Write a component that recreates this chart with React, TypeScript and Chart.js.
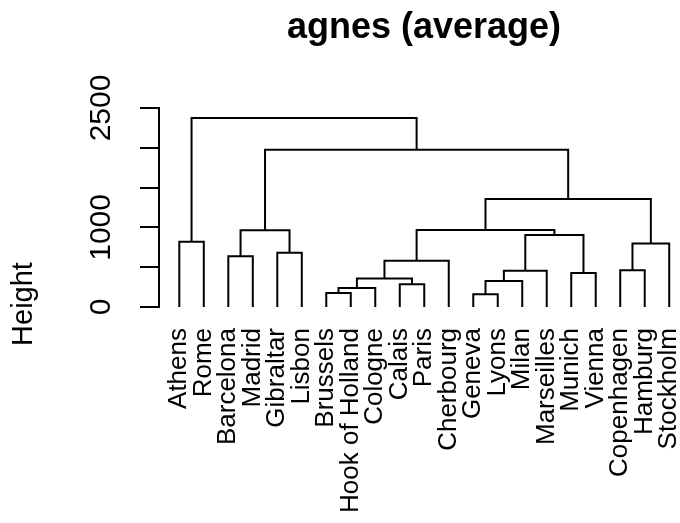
import React, { useEffect, useRef } from "react";
import { Chart, registerables } from "chart.js";

Chart.register(...registerables);

// ---- data ----
const titleText = "agnes (average)";
const yAxisTitle = "Height";
const leafLabels = [
  "Athens", "Rome", "Barcelona", "Madrid", "Gibraltar", "Lisbon", "Brussels",
  "Hook of Holland", "Cologne", "Calais", "Paris", "Cherbourg", "Geneva", "Lyons",
  "Milan", "Marseilles", "Munich", "Vienna", "Copenhagen", "Hamburg", "Stockholm",
];
// merge steps (R-style): negative = leaf (1-based position), positive = earlier merge
const mergeLeft = [-13, -7, 2, -10, 1, 3, -17, 5, -19, 6, -3, -5, 9, -1, 8, 11, 10, 17, 16, 14];
const mergeRight = [-14, -8, -9, -11, -15, 4, -18, -16, -20, -12, -4, -6, -21, -2, 7, 12, 15, 13, 18, 19];
const mergeHeight = [160, 176, 240, 286, 328, 358, 428, 454, 462, 580, 639, 680, 799, 819, 903, 963, 966, 1357, 1975, 2374];
const yTickValues = [0, 500, 1000, 1500, 2000, 2500];
const yTickLabelsShown = [0, 1000, 2500];

const FONT = '"Liberation Sans", Arial, Helvetica, sans-serif';

function buildDatasets() {
  const pos: number[] = [];
  const hts: number[] = [];
  const node = (ref: number) =>
    ref < 0 ? { x: -ref, y: 0 } : { x: pos[ref - 1], y: hts[ref - 1] };
  return mergeHeight.map((h, i) => {
    const l = node(mergeLeft[i]);
    const r = node(mergeRight[i]);
    pos[i] = (l.x + r.x) / 2;
    hts[i] = h;
    return {
      data: [
        { x: l.x, y: l.y },
        { x: l.x, y: h },
        { x: r.x, y: h },
        { x: r.x, y: r.y },
      ],
      borderColor: "#000000",
      borderWidth: 2,
      pointRadius: 0,
      fill: false,
      tension: 0,
      showLine: true,
    };
  });
}

const textPlugin = {
  id: "extraTexts",
  afterDraw(chart: any) {
    const ctx = chart.ctx;
    ctx.save();
    ctx.fillStyle = "#000000";
    ctx.font = `bold 36px ${FONT}`;
    ctx.textAlign = "center";
    ctx.textBaseline = "alphabetic";
    ctx.fillText(titleText, 424, 37.5);
    ctx.translate(32, 304);
    ctx.rotate(-Math.PI / 2);
    ctx.font = `29px ${FONT}`;
    ctx.fillText(yAxisTitle, 0, 0);
    ctx.restore();
  },
};

export default function App() {
  const canvasRef = useRef<HTMLCanvasElement | null>(null);

  useEffect(() => {
    const canvas = canvasRef.current;
    if (!canvas) return;
    const chart = new Chart(canvas, {
      type: "line",
      data: { datasets: buildDatasets() as any },
      options: {
        animation: false,
        responsive: false,
        maintainAspectRatio: false,
        events: [],
        layout: { padding: { top: 108, left: 0, right: 0, bottom: 0 } },
        plugins: {
          legend: { display: false },
          tooltip: { enabled: false },
          title: { display: false },
        },
        scales: {
          x: {
            type: "linear",
            position: "bottom",
            min: 0.171,
            max: 21.44,
            grid: { display: false, drawTicks: false },
            border: { display: false },
            afterBuildTicks: (s: any) => {
              s.ticks = leafLabels.map((_, i) => ({ value: i + 1 }));
            },
            afterFit: (s: any) => {
              s.height = 216;
              s.paddingLeft = 0;
              s.paddingRight = 0;
            },
            ticks: {
              autoSkip: false,
              minRotation: 90,
              maxRotation: 90,
              padding: 21,
              color: "#000000",
              font: { family: FONT, size: 26 },
              callback: (v: any) => leafLabels[Math.round(Number(v)) - 1] ?? "",
            },
          },
          y: {
            type: "linear",
            min: 0,
            max: 2500,
            grid: {
              display: true,
              drawOnChartArea: false,
              drawTicks: true,
              tickLength: 19,
              color: "#000000",
              lineWidth: 2,
            },
            border: { display: true, color: "#000000", width: 2 },
            afterBuildTicks: (s: any) => {
              s.ticks = yTickValues.map((v) => ({ value: v }));
            },
            afterFit: (s: any) => {
              s.width = 159;
              s.paddingTop = 0;
              s.paddingBottom = 0;
            },
            ticks: {
              autoSkip: false,
              minRotation: 90,
              maxRotation: 90,
              crossAlign: "center",
              padding: 5,
              color: "#000000",
              font: { family: FONT, size: 30 },
              callback: (v: any) =>
                yTickLabelsShown.includes(Number(v)) ? String(v) : "",
            },
          },
        },
      } as any,
      plugins: [textPlugin],
    });
    return () => chart.destroy();
  }, []);

  return (
    <div style={{ position: "fixed", left: 0, top: 0, width: 680, height: 523, background: "#ffffff" }}>
      <canvas ref={canvasRef} width={680} height={523} style={{ width: 680, height: 523, display: "block" }} />
    </div>
  );
}
